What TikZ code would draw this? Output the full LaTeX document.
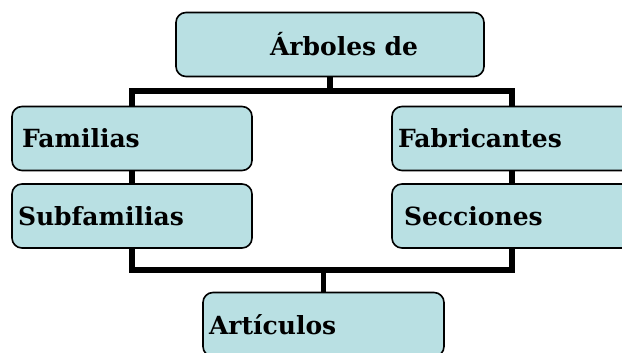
\documentclass[tikz,border=0pt]{standalone}
\usepackage{fontspec}
\setmainfont{DejaVu Serif}
\usepackage{tikz}
\usetikzlibrary{positioning}

\definecolor{boxfill}{RGB}{185,224,227}

\tikzset{
    box/.style={draw, line width=1.6pt, rounded corners=10pt, fill=boxfill,
                minimum height=64pt, text width=228pt, inner xsep=6pt,
                align=left, font=\fontsize{25}{29}\selectfont\bfseries},
    link/.style={line width=5.5pt}
}

\begin{document}
\begin{tikzpicture}[x=1pt, y=-1pt]
        \useasboundingbox (0,0) rectangle (622,353);
        \clip (0,0) rectangle (622,353);

        \node[box, text width=296pt, align=center] (arboles) at (330,44.5) {\hspace*{28pt}Árboles de};

        \node[box] (familias)    at (132,138.5) {\hspace*{4pt}Familias};
        \node[box] (subfamilias) at (132,216)   {Subfamilias};

        \node[box] (fabricantes) at (512,138.5) {Fabricantes};
        \node[box] (secciones)   at (512,216)   {\hspace*{6pt}Secciones};

        \node[box, text width=229pt] (articulos) at (323.5,324.5) {Artículos};

        % top and bottom bars
        \coordinate (busTop) at (0,91);
        \coordinate (busBot) at (0,270);

        \draw[link] (familias.north) |- (arboles.south |- busTop) -| (fabricantes.north);
        \draw[link] (arboles.south) -- (arboles.south |- busTop);

        \draw[link] (familias.south) -- (subfamilias.north);
        \draw[link] (fabricantes.south) -- (secciones.north);

        \draw[link] (subfamilias.south) |- (articulos.north |- busBot) -| (secciones.south);
        \draw[link] (articulos.north) -- (articulos.north |- busBot);

    \end{tikzpicture}
\end{document}
